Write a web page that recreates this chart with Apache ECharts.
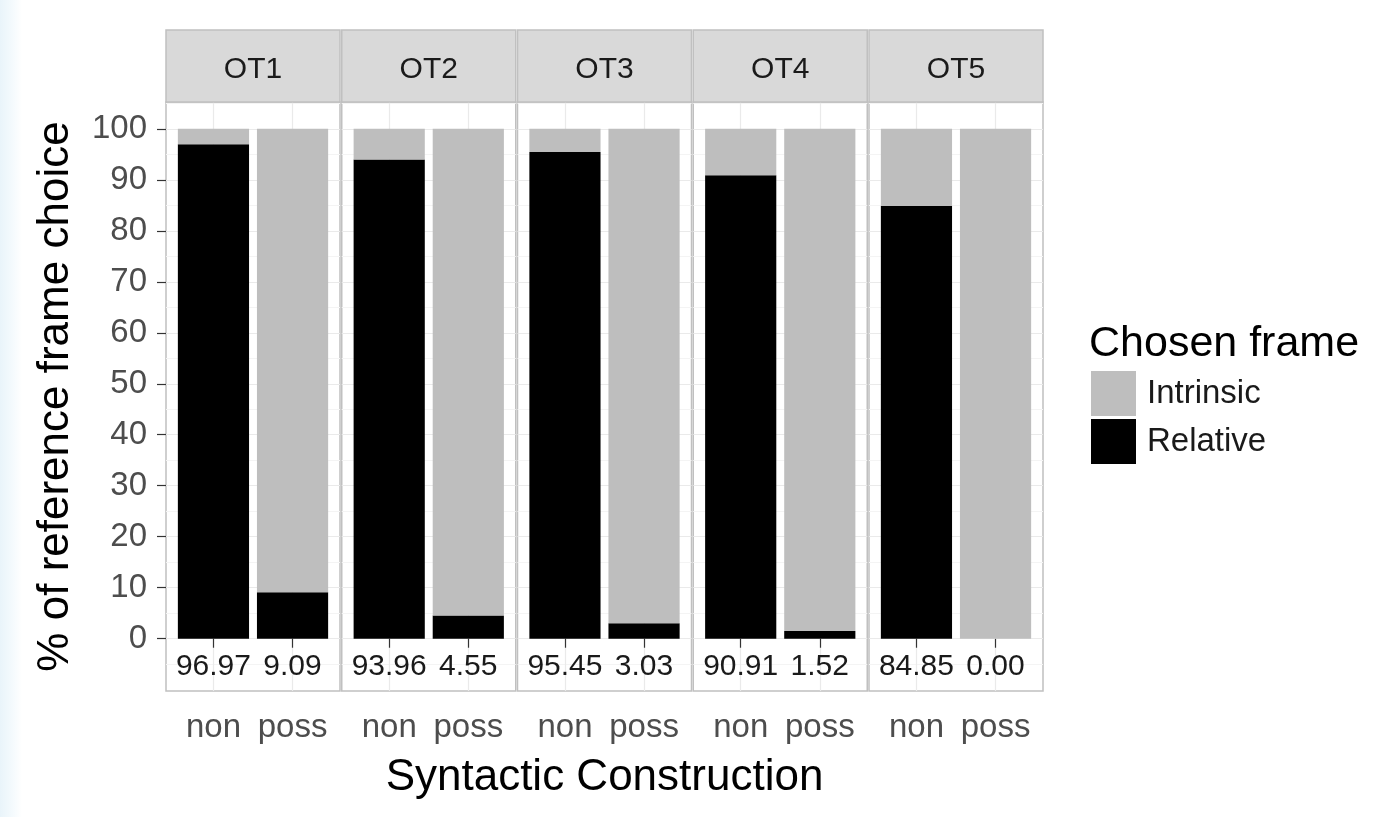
<!DOCTYPE html>
<html>
<head>
<meta charset="utf-8">
<script src="https://cdn.jsdelivr.net/npm/echarts@6/dist/echarts.min.js"></script>
<style>
  html, body { margin: 0; padding: 0; background: #ffffff; }
  #wrap { width: 1391px; height: 817px; background: linear-gradient(to right, #E9F4FA 0px, #F4FAFD 12px, #ffffff 22px); }
  #chart { width: 1391px; height: 817px; }
</style>
</head>
<body>
<div id="wrap"><div id="chart"></div></div>
<script>
// ---------------- data ----------------
const facets = ['OT1', 'OT2', 'OT3', 'OT4', 'OT5'];
const constructions = ['non', 'poss'];
const relative = [
  [96.97, 9.09],
  [93.96, 4.55],
  [95.45, 3.03],
  [90.91, 1.52],
  [84.85, 0.00]
];
const intrinsic = [
  [3.03, 90.91],
  [6.04, 95.45],
  [4.55, 96.97],
  [9.09, 98.48],
  [15.15, 100.00]
];
const yMajorTicks = [0, 10, 20, 30, 40, 50, 60, 70, 80, 90, 100];
const yMinorTicks = [-5, 5, 15, 25, 35, 45, 55, 65, 75, 85, 95, 105];

// ---------------- layout ----------------
const FONT = "'Liberation Sans', Arial, Helvetica, sans-serif";
const panelLeft0 = 166, panelW = 174, panelGap = 1.75;
const panelTop = 102, panelBottom = 691;
const stripTop = 30;
const yMin = -10.25, yMax = 105.25;
const unit = panelW / 2.2;          // discrete axis expansion 0.6 each side
const barW = unit * 0.9;
const borderColor = '#C0C0C0';

const grids = [], xAxes = [], yAxes = [], series = [], graphics = [];

facets.forEach((f, i) => {
  const L = panelLeft0 + i * (panelW + panelGap);
  // outer panel grid (background, border, horizontal gridlines)
  const og = grids.length;
  grids.push({
    left: L, top: panelTop, width: panelW, height: panelBottom - panelTop,
    show: true, backgroundColor: '#ffffff', borderColor: borderColor, borderWidth: 1.5
  });
  xAxes.push({ gridIndex: og, type: 'value', min: 0, max: 1, show: false });
  yAxes.push({
    gridIndex: og, type: 'value', min: yMin, max: yMax, position: 'left',
    axisLine: { show: false },
    axisTick: { show: i === 0, customValues: yMajorTicks, length: 9, lineStyle: { color: '#333333', width: 1.2 } },
    axisLabel: { show: i === 0, customValues: yMajorTicks, fontSize: 33, fontFamily: FONT, color: '#4D4D4D', margin: 19, padding: [3, 0, 0, 0] },
    splitLine: { show: true, lineStyle: { color: '#EAEAEA', width: 1.2 } }
  });
  yAxes.push({
    gridIndex: og, type: 'value', min: yMin, max: yMax, position: 'right',
    axisLine: { show: false },
    axisTick: { show: false, customValues: yMinorTicks },
    axisLabel: { show: false, customValues: yMinorTicks },
    splitLine: { show: true, lineStyle: { color: '#F4F4F4', width: 1 } }
  });
  // inner data grid: spans category centre to category centre
  const ig = grids.length;
  grids.push({
    left: L + unit * 0.6, top: panelTop, width: unit, height: panelBottom - panelTop,
    show: false
  });
  const xi = xAxes.length;
  xAxes.push({
    gridIndex: ig, type: 'category', data: constructions, boundaryGap: false,
    axisLine: { show: false },
    axisTick: { show: true, length: 9, lineStyle: { color: '#333333', width: 1.2 } },
    axisLabel: { interval: 0, fontSize: 33, fontFamily: FONT, color: '#4D4D4D', margin: 20 },
    splitLine: { show: true, lineStyle: { color: '#EAEAEA', width: 1.2 } }
  });
  const yi = yAxes.length;
  yAxes.push({ gridIndex: ig, type: 'value', min: yMin, max: yMax, show: false });

  series.push({
    type: 'bar', name: 'Relative', xAxisIndex: xi, yAxisIndex: yi, stack: 'p' + i,
    data: relative[i], barWidth: barW, clip: false,
    itemStyle: { color: '#000000' },
    label: {
      show: true, position: 'bottom', distance: 13,
      formatter: p => Number(p.value).toFixed(2),
      fontSize: 30, fontFamily: FONT, color: '#1A1A1A'
    },
    emphasis: { disabled: true }, animation: false
  });
  series.push({
    type: 'bar', name: 'Intrinsic', xAxisIndex: xi, yAxisIndex: yi, stack: 'p' + i,
    data: intrinsic[i], barWidth: barW, clip: false,
    itemStyle: { color: '#BEBEBE' },
    emphasis: { disabled: true }, animation: false
  });

  // facet strip
  graphics.push({
    type: 'rect', shape: { x: L, y: stripTop, width: panelW, height: panelTop - stripTop },
    style: { fill: '#D9D9D9', stroke: borderColor, lineWidth: 1.5 }, z: 10
  });
  graphics.push({
    type: 'text', x: L + panelW / 2, y: 70, z: 11,
    style: { text: f, font: '30px ' + FONT, fill: '#1A1A1A', textAlign: 'center', textVerticalAlign: 'middle' }
  });
});

// axis titles and legend title
const panelsRight = panelLeft0 + 5 * panelW + 4 * panelGap;
graphics.push({
  type: 'text', x: (panelLeft0 + panelsRight) / 2, y: 778, z: 11,
  style: { text: 'Syntactic Construction', font: '44px ' + FONT, fill: '#000000', textAlign: 'center', textVerticalAlign: 'middle' }
});
graphics.push({
  type: 'text', x: 56, y: (panelTop + panelBottom) / 2, rotation: Math.PI / 2, z: 11,
  style: { text: '% of reference frame choice', font: '44px ' + FONT, fill: '#000000', textAlign: 'center', textVerticalAlign: 'middle' }
});
graphics.push({
  type: 'text', x: 1089, y: 344, z: 11,
  style: { text: 'Chosen frame', font: '43px ' + FONT, fill: '#000000', textAlign: 'left', textVerticalAlign: 'middle' }
});

const chart = echarts.init(document.getElementById('chart'), null, { renderer: 'canvas' });
chart.setOption({
  animation: false,
  backgroundColor: 'transparent',
  grid: grids,
  xAxis: xAxes,
  yAxis: yAxes,
  series: series,
  legend: {
    data: ['Intrinsic', 'Relative'],
    orient: 'vertical', left: 1091, top: 371, padding: 0,
    itemWidth: 45, itemHeight: 45, itemGap: 3, icon: 'rect',
    textStyle: { fontSize: 33, fontFamily: FONT, color: '#1A1A1A', padding: [0, 0, 0, 6] },
    selectedMode: false
  },
  graphic: graphics
});
</script>
</body>
</html>
